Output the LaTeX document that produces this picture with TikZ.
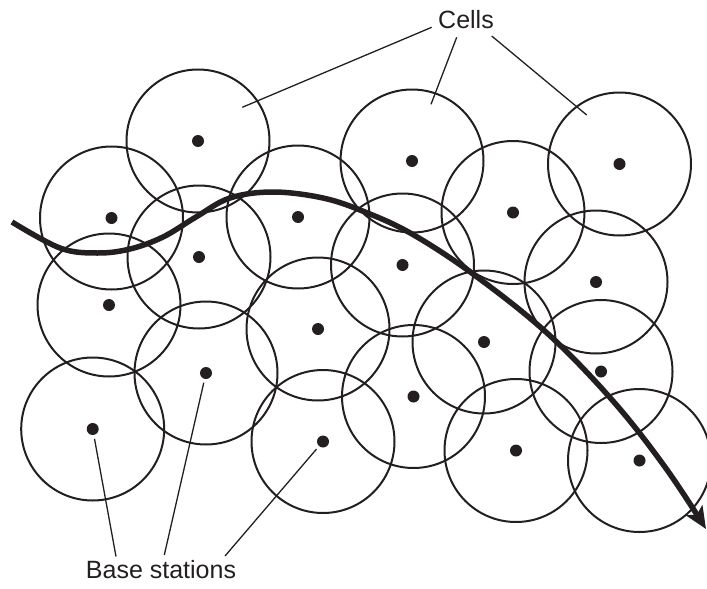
\documentclass[tikz,border=0pt]{standalone}
\usepackage{fontspec}
\setmainfont{Liberation Sans}
\usetikzlibrary{arrows.meta}
\definecolor{ink}{HTML}{231F20}
\begin{document}
\begin{tikzpicture}[x=1pt,y=-1pt,
  cellcircle/.style={draw=ink, line width=2pt},
  bsdot/.style={circle, fill=ink, minimum size=12pt, inner sep=0pt, outer sep=4pt},
  leader/.style={draw=ink, line width=1.3pt},
  lbl/.style={font=\fontsize{25}{30}\selectfont, text=ink, inner sep=0pt},
  route/.style={draw=ink, line width=5.5pt, -{Stealth[length=22pt,width=19pt,inset=5pt]}}]
\useasboundingbox (0,0) rectangle (707,589);
% base stations
\foreach \n/\x/\y in {1/198/141, 2/111.5/218, 3/199/257, 4/109/305, 5/92.7/429,
  6/206/373, 7/298/217, 8/318/329, 9/323/441.5, 10/412/161, 11/402.5/265,
  12/413.5/396.5, 13/513/212.5, 14/484/342, 15/516/450.5, 16/619.5/164,
  17/596/282, 18/601/371.5, 19/639.5/460.5}{
  \node[bsdot] (b\n) at (\x,\y) {};
  \draw[cellcircle] (\x,\y) circle[radius=71.5];
}
% route of the mobile
\draw[route] plot[smooth, tension=0.6] coordinates {(12,222) (60,248) (97,253) (130,249) (163,237) (196,217) (230,198) (273,192) (323,198) (365,212) (412,234) (473,274) (547,333) (613,401) (665,467) (706,529)};
% labels
\node[lbl, anchor=base] (cells) at (466,28) {Cells};
\node[lbl, anchor=base] (bs) at (161,578) {Base stations};
% Cells leaders
\coordinate (c1s) at (431.7,27.3);
\coordinate (c2s) at (456.7,37.3);
\coordinate (c3s) at (491.7,36);
\coordinate (c1e) at (242.3,107.3);
\coordinate (c2e) at (431,104.3);
\coordinate (c3e) at (586.7,115);
\draw[leader] (c1s) -- (c1e);
\draw[leader] (c2s) -- (c2e);
\draw[leader] (c3s) -- (c3e);
% Base station leaders
\coordinate (s1) at (116,556.5);
\coordinate (s2) at (164.3,555);
\coordinate (s3) at (225,556);
\draw[leader] (b5) -- (s1);
\draw[leader] (b6) -- (s2);
\draw[leader] (b9) -- (s3);
\end{tikzpicture}
\end{document}
